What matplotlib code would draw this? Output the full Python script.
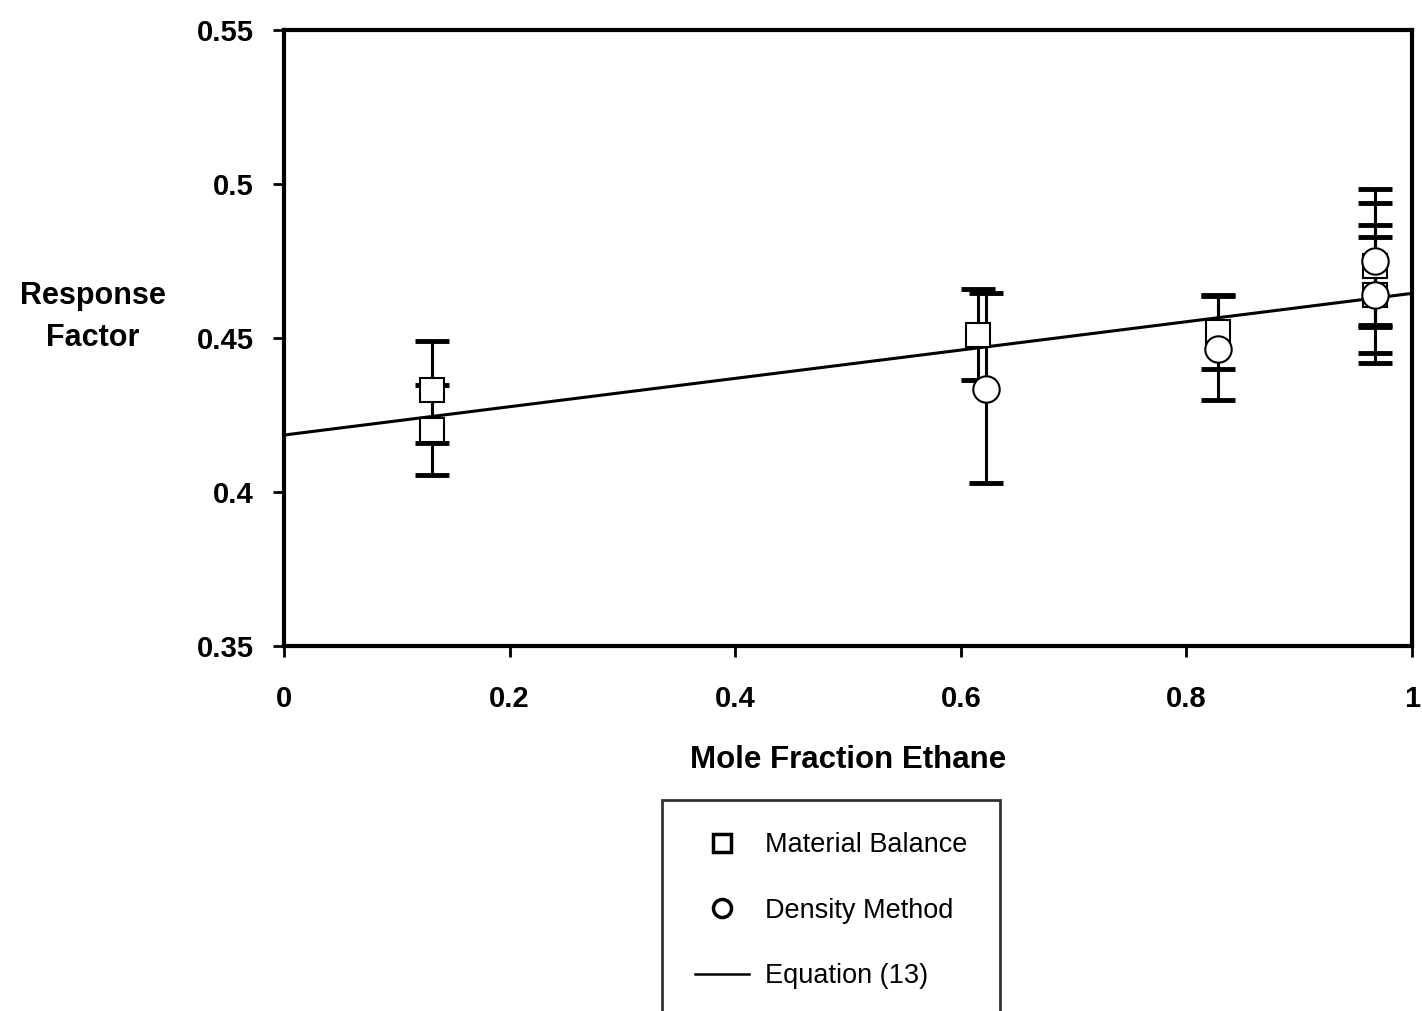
import matplotlib
matplotlib.use("Agg")
import matplotlib.pyplot as plt
from matplotlib.lines import Line2D

plt.rcParams["font.family"] = ["Liberation Sans", "DejaVu Sans"]

# Material balance points
mb_x = [0.131, 0.131, 0.615, 0.828, 0.967, 0.967]
mb_y = [0.433, 0.420, 0.451, 0.452, 0.4735, 0.464]
mb_lo = [0.017, 0.0145, 0.0145, 0.012, 0.0193, 0.0222]
mb_hi = [0.016, 0.0147, 0.0148, 0.012, 0.0203, 0.0227]

# Density method points
dm_x = [0.622, 0.828, 0.967, 0.967]
dm_y = [0.4335, 0.4465, 0.475, 0.464]
dm_lo = [0.0305, 0.0165, 0.0215, 0.019]
dm_hi = [0.031, 0.017, 0.0235, 0.0188]

# Equation (13) line
eq_x = [0.0, 1.0]
eq_y = [0.4185, 0.4645]

fig = plt.figure(figsize=(14.22, 10.11), dpi=100)
ax = fig.add_axes([0.1997, 0.361, 0.7933, 0.6093])

ax.plot(eq_x, eq_y, color="black", lw=2.2, zorder=2)

ax.errorbar(mb_x, mb_y, yerr=[mb_lo, mb_hi], fmt="none", ecolor="black",
            elinewidth=2.2, capsize=12, capthick=3.5, zorder=3)
ax.errorbar(dm_x, dm_y, yerr=[dm_lo, dm_hi], fmt="none", ecolor="black",
            elinewidth=2.2, capsize=12, capthick=3.5, zorder=3)
ax.plot(mb_x, mb_y, "s", ms=17, mfc="white", mec="black", mew=1.5, zorder=4)
ax.plot(dm_x, dm_y, "o", ms=19, mfc="white", mec="black", mew=1.5, zorder=5)

ax.set_xlim(0, 1)
ax.set_ylim(0.35, 0.55)
ax.set_xticks([0, 0.2, 0.4, 0.6, 0.8, 1])
ax.set_xticklabels(["0", "0.2", "0.4", "0.6", "0.8", "1"])
ax.set_yticks([0.35, 0.4, 0.45, 0.5, 0.55])
ax.set_yticklabels(["0.35", "0.4", "0.45", "0.5", "0.55"])
ax.tick_params(direction="out", length=8, width=2, labelsize=21)
ax.tick_params(axis="x", pad=20)
ax.tick_params(axis="y", pad=14)
for lab in ax.get_xticklabels() + ax.get_yticklabels():
    lab.set_fontweight("bold")
for s in ax.spines.values():
    s.set_linewidth(3)

ax.set_xlabel("Mole Fraction Ethane", fontsize=22.5, fontweight="bold", labelpad=23)
fig.text(93 / 1422, 1 - 317 / 1011, "Response\nFactor", fontsize=22,
         fontweight="bold", ha="center", va="center", linespacing=1.5)

handles = [
    Line2D([], [], ls="none", marker="s", ms=13, mfc="white", mec="black", mew=2.5),
    Line2D([], [], ls="none", marker="o", ms=13, mfc="white", mec="black", mew=2.5),
    Line2D([], [], color="black", lw=1.8),
]
labels = ["Material Balance", "Density Method", "Equation (13)"]
leg = fig.legend(handles, labels, loc="upper left",
                 bbox_to_anchor=(662 / 1422, 1 - 800 / 1011),
                 fontsize=19.5, frameon=True, fancybox=False, edgecolor="black",
                 borderpad=1.2, labelspacing=1.45, handlelength=2.0,
                 handletextpad=0.6, borderaxespad=0)
leg.get_frame().set_linewidth(2)

fig.savefig("out.png", dpi=100)
